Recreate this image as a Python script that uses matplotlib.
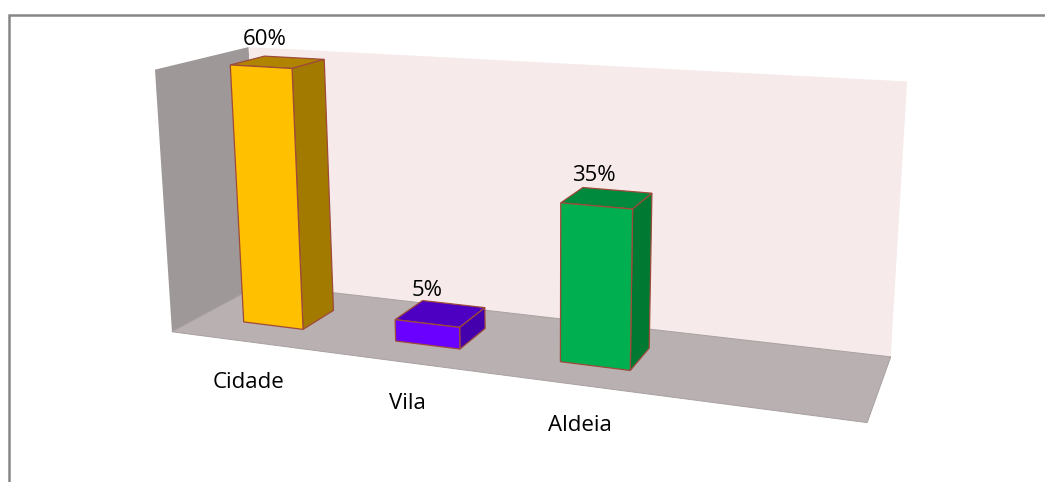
import numpy as np
import matplotlib
matplotlib.use('Agg')
import matplotlib.pyplot as plt
from matplotlib.patches import Polygon, Rectangle

# ===================== DATA =====================
categories = ['Cidade', 'Vila', 'Aldeia']
values = [60, 5, 35]
value_labels = ['60%', '5%', '35%']

# colours per column: front, top, side
front_colors = ['#FFC000', '#6A00FF', '#00B050']
top_colors = ['#B08400', '#4D00C2', '#008A3E']
side_colors = ['#A37A00', '#4400AC', '#007A33']

# ===================== SCENE SETUP =====================
n_slots = 4            # room for four columns on the category axis
z_max = 60             # wall height in percent
bar_width = 0.4        # fraction of a slot
bar_depth = (0.30, 0.68)

# perspective view matrix (world x: slot, y: depth 0..1, z: percent -> pixels)
VIEW = np.array([
    [1.39395141e+02, 1.16625709e+02, -3.94328552e-01, 1.71943199e+02],
    [5.94129488e+00, -1.65391182e+01, -4.41866514e+00, 3.31770330e+02],
    [-3.96791071e-02, 1.08670386e-01, -7.20258162e-04, 1.00000000e+00],
])


def project(pts):
    pts = np.atleast_2d(np.asarray(pts, float))
    h = np.c_[pts, np.ones(len(pts))] @ VIEW.T
    return h[:, :2] / h[:, 2:3]


def face(ax, corners, color, edge=None, lw=0.0, z=1):
    ax.add_patch(Polygon(project(corners), closed=True, facecolor=color,
                         edgecolor=edge if edge else color, linewidth=lw,
                         zorder=z, joinstyle='miter'))


# ===================== FIGURE =====================
plt.rcParams['font.family'] = ['Open Sans', 'DejaVu Sans']

fig = plt.figure(figsize=(10.45, 4.82), dpi=100)
ax = fig.add_axes([0, 0, 1, 1])
ax.set_xlim(0, 1045)
ax.set_ylim(482, 0)
ax.axis('off')

# ---------- walls and floor ----------
face(ax, [(0, 0, 0), (0, 1, 0), (0, 1, z_max), (0, 0, z_max)], '#9E9899')
face(ax, [(0, 1, 0), (n_slots, 1, 0), (n_slots, 1, z_max), (0, 1, z_max)],
     '#F6EAEA')
face(ax, [(0, 0, 0), (n_slots, 0, 0), (n_slots, 1, 0), (0, 1, 0)],
     '#B8B0B1', edge='#A8A0A1', lw=0.7)

# ---------- columns ----------
y0, y1 = bar_depth
edge_col = '#9E4A3A'
for i, v in enumerate(values):
    x0 = i + 0.5 - bar_width / 2
    x1 = x0 + bar_width
    # top
    face(ax, [(x0, y0, v), (x1, y0, v), (x1, y1, v), (x0, y1, v)],
         top_colors[i], edge_col, 0.9, 3)
    # right side
    face(ax, [(x1, y0, 0), (x1, y1, 0), (x1, y1, v), (x1, y0, v)],
         side_colors[i], edge_col, 0.9, 3)
    # front
    face(ax, [(x0, y0, 0), (x1, y0, 0), (x1, y0, v), (x0, y0, v)],
         front_colors[i], edge_col, 0.9, 4)

    # value label above the column top
    top_c = project([(i + 0.5, 0.5 * (y0 + y1), v)])[0]
    ax.annotate(value_labels[i], xy=top_c, xytext=(-9.5, 16.5),
                textcoords='offset points', ha='center', va='center',
                fontsize=16, color='black', zorder=5)

# ---------- category labels below the front edge ----------
for i, cat in enumerate(categories):
    base = project([(i + 0.5, 0, 0)])[0]
    ax.annotate(cat, xy=base, xytext=(1.5, -29.5), textcoords='offset points',
                ha='center', va='center', fontsize=16, color='black')

# outer chart border
fig.add_artist(Rectangle((9 / 1045, -0.1), 1.2, 1.1 - 15 / 482,
                         transform=fig.transFigure, fill=False,
                         edgecolor='#878787', linewidth=1.8))

fig.savefig('out.png', dpi=100)
